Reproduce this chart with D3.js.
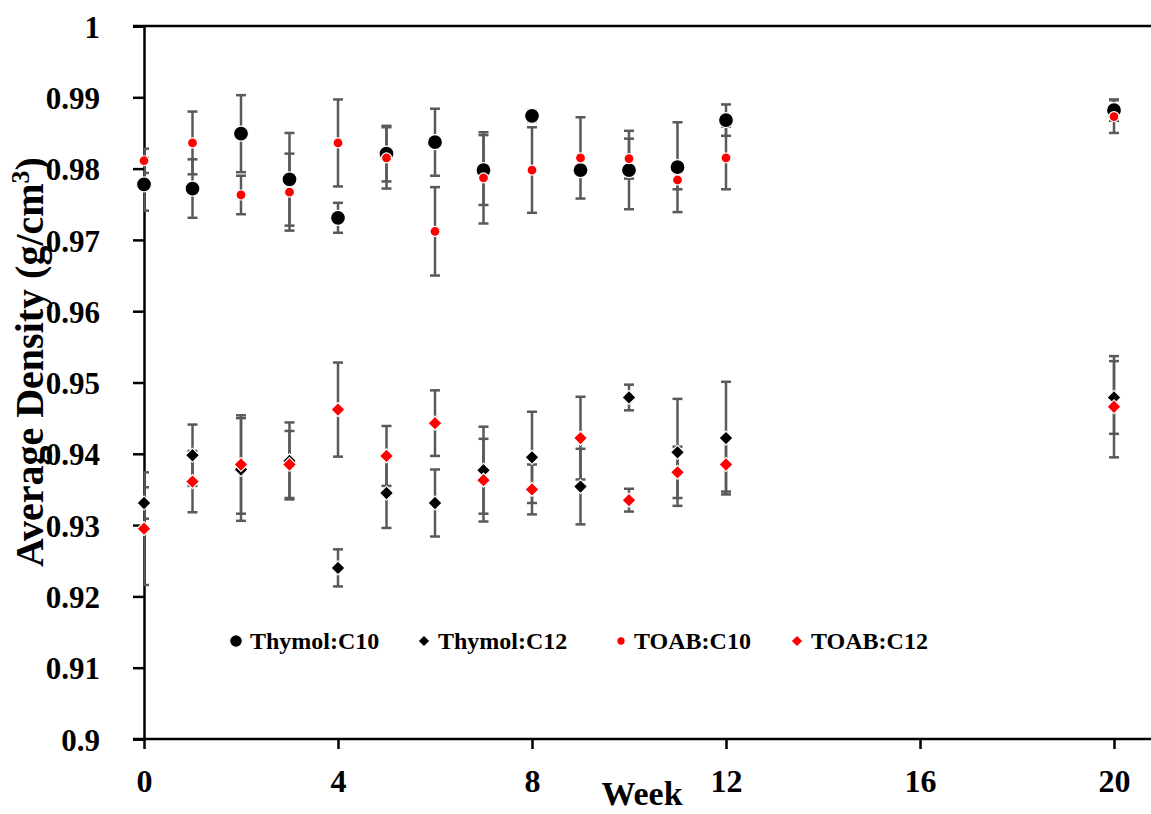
<!DOCTYPE html>
<html>
<head>
<meta charset="utf-8">
<script src="https://cdn.jsdelivr.net/npm/d3@7"></script>
<style>
  html, body { margin: 0; padding: 0; background: #fff; }
  svg { display: block; }
  text { font-family: "Liberation Serif", "Times New Roman", serif; font-weight: bold; fill: #000; }
</style>
</head>
<body>
<svg id="chart" width="1151" height="814"></svg>
<script>
// Sampling weeks
const weeks = [0, 1, 2, 3, 4, 5, 6, 7, 8, 9, 10, 11, 12, 20];

// Average density (g/cm3) and standard deviation per solvent system
const thymolC10    = [0.9778, 0.9772, 0.9849, 0.9785, 0.9731, 0.9821, 0.9837, 0.9798, 0.9874, 0.9798, 0.9798, 0.9802, 0.9868, 0.9882];
const thymolC10Err = [0.0037, 0.0041, 0.0054, 0.0065, 0.0021, 0.0039, 0.0047, 0.0049, 0.0008, 0.0006, 0.0055, 0.0063, 0.0022, 0.0015];

const thymolC12    = [0.9331, 0.9398, 0.9378, 0.9390, 0.9240, 0.9345, 0.9331, 0.9377, 0.9395, 0.9354, 0.9479, 0.9402, 0.9422, 0.9479];
const thymolC12Err = [0.0022, 0.0043, 0.0072, 0.0054, 0.0026, 0.0049, 0.0047, 0.0061, 0.0064, 0.0053, 0.0018, 0.0075, 0.0079, 0.0051];

const toabC10      = [0.9811, 0.9836, 0.9763, 0.9767, 0.9836, 0.9815, 0.9712, 0.9787, 0.9798, 0.9815, 0.9814, 0.9784, 0.9815, 0.9873];
const toabC10Err   = [0.0017, 0.0044, 0.0027, 0.0054, 0.0061, 0.0043, 0.0062, 0.0064, 0.0060, 0.0057, 0.0028, 0.0013, 0.0044, 0.0023];

const toabC12      = [0.9295, 0.9361, 0.9385, 0.9385, 0.9462, 0.9397, 0.9443, 0.9363, 0.9350, 0.9422, 0.9335, 0.9374, 0.9385, 0.9466];
const toabC12Err   = [0.0079, 0.0043, 0.0069, 0.0047, 0.0066, 0.0042, 0.0046, 0.0058, 0.0035, 0.0058, 0.0016, 0.0036, 0.0038, 0.0071];

const seriesNames = ["Thymol:C10", "Thymol:C12", "TOAB:C10", "TOAB:C12"];
const xTicks = [0, 4, 8, 12, 16, 20];
const yTicks = [0.9, 0.91, 0.92, 0.93, 0.94, 0.95, 0.96, 0.97, 0.98, 0.99, 1];

// Series definitions: marker shape, colour, size
const series = [
  { name: seriesNames[0], values: thymolC10, errors: thymolC10Err, shape: "circle",  color: "#000000", size: 7.5 },
  { name: seriesNames[1], values: thymolC12, errors: thymolC12Err, shape: "diamond", color: "#000000", size: 7 },
  { name: seriesNames[2], values: toabC10,   errors: toabC10Err,   shape: "circle",  color: "#ff0000", size: 5 },
  { name: seriesNames[3], values: toabC12,   errors: toabC12Err,   shape: "diamond", color: "#ff0000", size: 7 }
];

const svg = d3.select("#chart");
const W = 1151;

const x = d3.scaleLinear().domain([0, 20]).range([144, 1114]);
const y = d3.scaleLinear().domain([0.9, 1]).range([739, 26]);

// Clip so nothing spills left of the value axis
svg.append("defs").append("clipPath").attr("id", "plotClip")
  .append("rect").attr("x", x(0)).attr("y", 0).attr("width", W - x(0)).attr("height", 814);

// Top frame line
svg.append("line")
  .attr("x1", x(0) - 11).attr("x2", W)
  .attr("y1", y(1)).attr("y2", y(1))
  .attr("stroke", "#000").attr("stroke-width", 2.5);

// Y axis
const yAxis = svg.append("g")
  .attr("transform", `translate(${x(0)},0)`)
  .call(d3.axisLeft(y).tickValues(yTicks).tickSize(11).tickPadding(33)
    .tickFormat(d => d3.format("")(+d.toFixed(2))));
yAxis.select(".domain").attr("stroke", "#000").attr("stroke-width", 2.5);
yAxis.selectAll(".tick line").attr("stroke", "#000").attr("stroke-width", 2.5);
yAxis.selectAll(".tick text")
  .attr("font-size", 31).attr("font-family", "'Liberation Serif', serif")
  .attr("font-weight", "bold").attr("fill", "#000").attr("dy", "0.36em");

// X axis
const xAxis = svg.append("g")
  .attr("transform", `translate(0,${y(0.9)})`)
  .call(d3.axisBottom(x).tickValues(xTicks).tickSize(10).tickPadding(20).tickSizeOuter(0));
xAxis.select(".domain").attr("d", `M${x(0) - 11},0H${W}`).attr("stroke", "#000").attr("stroke-width", 2.5);
xAxis.selectAll(".tick line").attr("stroke", "#000").attr("stroke-width", 2.5);
xAxis.selectAll(".tick text")
  .attr("font-size", 32).attr("font-family", "'Liberation Serif', serif")
  .attr("font-weight", "bold").attr("fill", "#000");

// Axis titles
svg.append("text")
  .attr("x", 642).attr("y", 805)
  .attr("text-anchor", "middle").attr("font-size", 34)
  .text("Week");

const yTitle = svg.append("text")
  .attr("transform", "translate(43,362) rotate(-90)")
  .attr("text-anchor", "middle").attr("font-size", 40);
yTitle.append("tspan").text("Average Density (g/cm");
yTitle.append("tspan").attr("font-size", 26).attr("dy", "-0.55em").text("3");
yTitle.append("tspan").attr("dy", "0.35em").text(")");

// Error bars
const plot = svg.append("g").attr("clip-path", "url(#plotClip)");
const capHalf = 5;
series.forEach(s => {
  const g = plot.append("g").attr("stroke", "#595959").attr("stroke-width", 2.5).attr("fill", "none");
  weeks.forEach((w, i) => {
    const cx = x(w), top = y(s.values[i] + s.errors[i]), bot = y(s.values[i] - s.errors[i]);
    g.append("line").attr("x1", cx).attr("x2", cx).attr("y1", top).attr("y2", bot);
    g.append("line").attr("x1", cx - capHalf).attr("x2", cx + capHalf).attr("y1", top).attr("y2", top);
    g.append("line").attr("x1", cx - capHalf).attr("x2", cx + capHalf).attr("y1", bot).attr("y2", bot);
  });
});

// Marker drawing helper
function drawMarker(g, shape, size, color, cx, cy) {
  if (shape === "circle") {
    g.append("circle").attr("cx", cx).attr("cy", cy).attr("r", size)
      .attr("fill", color).attr("stroke", "#fff").attr("stroke-width", 1.2);
  } else {
    const side = size * Math.SQRT2;
    g.append("path")
      .attr("d", d3.symbol().type(d3.symbolSquare).size(side * side)())
      .attr("transform", `translate(${cx},${cy}) rotate(45)`)
      .attr("fill", color).attr("stroke", "#fff").attr("stroke-width", 1.2);
  }
}

// Markers
series.forEach(s => {
  const g = svg.append("g");
  weeks.forEach((w, i) => drawMarker(g, s.shape, s.size, s.color, x(w), y(s.values[i])));
});

// Legend
const legendItems = [
  { mx: 236, tx: 250 },
  { mx: 424, tx: 438 },
  { mx: 621, tx: 634 },
  { mx: 797, tx: 811 }
];
const legend = svg.append("g");
series.forEach((s, i) => {
  drawMarker(legend, s.shape, s.size * 0.85, s.color, legendItems[i].mx, 641);
  legend.append("text")
    .attr("x", legendItems[i].tx).attr("y", 649)
    .attr("font-size", 24)
    .text(s.name);
});
</script>
</body>
</html>
